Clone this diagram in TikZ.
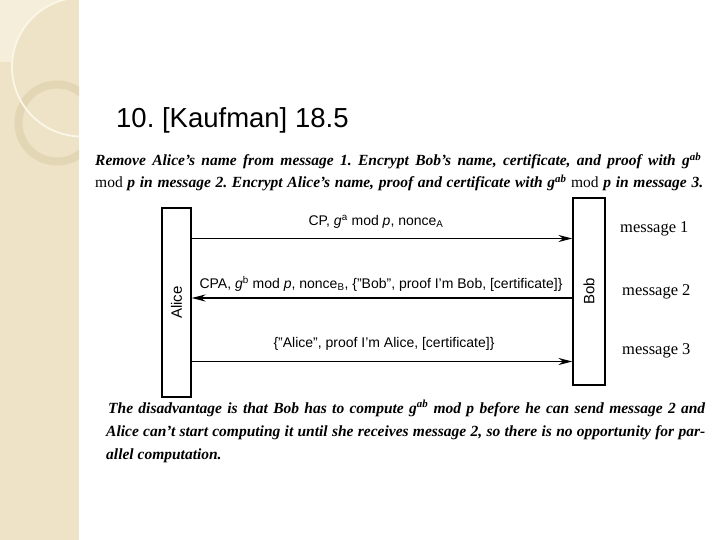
\documentclass[tikz,border=0pt]{standalone}
\usepackage{fontspec}
\setmainfont{Liberation Serif}
\setsansfont{Liberation Sans}
\usetikzlibrary{arrows.meta}
\definecolor{strip}{RGB}{238,227,198}
\definecolor{stripl}{RGB}{245,238,218}
\definecolor{ringc}{RGB}{227,214,181}
\definecolor{arcc}{RGB}{251,247,232}
\tikzset{
  actor/.style={draw=black, line width=1.1pt, fill=white, inner sep=0pt},
  msg/.style={line width=1.4pt, -{Stealth[length=14pt,width=7pt]}},
  lbl/.style={font=\sffamily\fontsize{14}{16}\selectfont, inner sep=0pt},
  albl/.style={font=\sffamily\fontsize{15}{17}\selectfont, inner sep=0pt, rotate=90},
  side/.style={font=\fontsize{16.5}{18}\selectfont, anchor=base west, inner sep=0pt},
  para/.style={font=\bfseries\itshape\fontsize{15.5}{18}\selectfont, anchor=base west, inner sep=0pt}
}
\newcommand{\myup}[1]{\textsuperscript{#1}}
\begin{document}
\frenchspacing
\begin{tikzpicture}[x=1pt,y=-1pt]
\useasboundingbox (0,0) rectangle (720,540);
\fill[white] (0,0) rectangle (720,540);
% decorative strip
\fill[strip] (0,0) rectangle (79,540);
\begin{scope}
\clip (0,0) rectangle (63,62);
\fill[stripl] (0,0) rectangle (63,62);
\fill[strip] (81.5,67) circle[radius=69.5];
\end{scope}
\begin{scope}
\clip (0,0) rectangle (79,540);
\draw[ringc, line width=8pt] (57,123) circle[radius=38.5];
\draw[arcc, line width=1.8pt] (81.5,67) circle[radius=69.5];
\end{scope}
% title
\node[font=\sffamily\fontsize{27.5}{30}\selectfont, anchor=base west, inner sep=0pt] (title) at (116,128) {10. [Kaufman] 18.5};
% top paragraph
\node[para] (p1) at (95,166) {\makebox[606pt][s]{Remove Alice's name from message 1. Encrypt Bob's name, certificate, and proof with \textit{g}\myup{ab}}};
\node[para] (p2) at (95,188) {\makebox[608pt][s]{\textmd{\textup{mod}} \textit{p} in message 2. Encrypt Alice's name, proof and certificate with \textit{g}\myup{ab} \textmd{\textup{mod}} \textit{p} in message 3.}};
% actors
\node[actor, minimum width=29pt, minimum height=189pt] (alice) at (176.5,302.5) {};
\node[actor, minimum width=32pt, minimum height=187pt] (bob) at (589,291.5) {};
\node[albl] (alicel) at (alice.center) {Alice};
\node[albl] (bobl) at (bob.center) {Bob};
% messages
\coordinate (y1) at (0,238.5);
\coordinate (y2) at (0,298);
\coordinate (y3) at (0,361.5);
\draw[msg] (alice.east |- y1) -- (bob.west |- y1);
\draw[msg] (bob.west |- y2) -- (alice.east |- y2);
\draw[msg] (alice.east |- y3) -- (bob.west |- y3);
\node[lbl] (m1) at (376,222) {CP, \textit{g}\myup{a} mod \textit{p}, nonce\textsubscript{A}};
\node[lbl] (m2) at (381,284) {CPA, \textit{g}\myup{b} mod \textit{p}, nonce\textsubscript{B}, \{"Bob", proof I'm Bob, [certificate]\}};
\node[lbl] (m3) at (384,344) {\{"Alice", proof I'm Alice, [certificate]\}};
\node[side] (s1) at (620,233) {message 1};
\node[side] (s2) at (622,295) {message 2};
\node[side] (s3) at (622,354) {message 3};
% bottom paragraph
\node[para] (b1) at (108,413) {\makebox[597pt][s]{The disadvantage is that Bob has to compute \textit{g}\myup{ab} mod \textit{p} before he can send message 2 and}};
\node[para] (b2) at (106,436) {\makebox[599pt][s]{Alice can't start computing it until she receives message 2, so there is no opportunity for par-}};
\node[para] (b3) at (106,459) {allel computation.};
\end{tikzpicture}
\end{document}
